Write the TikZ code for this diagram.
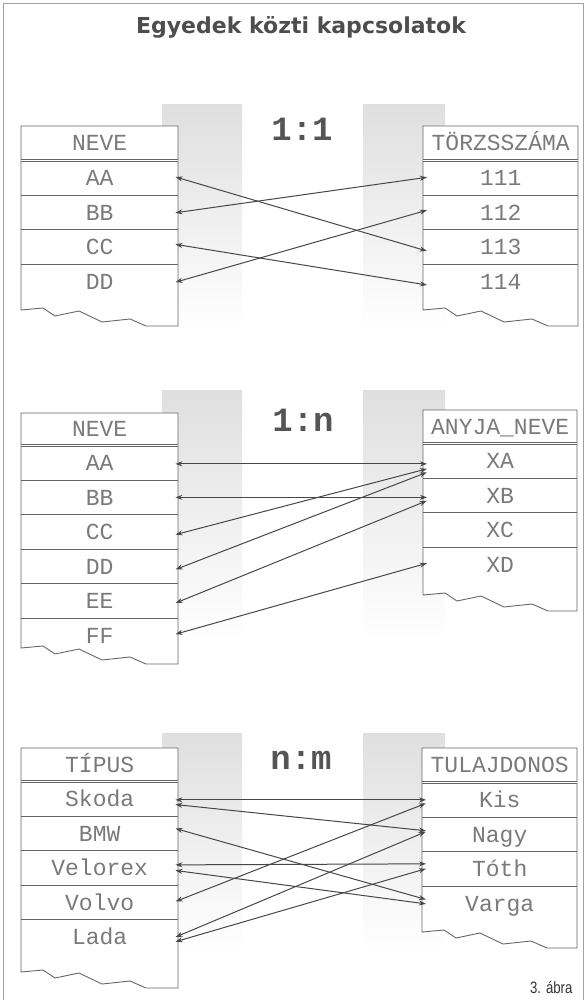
\documentclass[tikz,border=0pt]{standalone}
\usepackage{fontspec}
\usetikzlibrary{arrows.meta,positioning}

\newfontfamily\cellfont{Liberation Mono}
\newfontfamily\ratiofont{Liberation Mono}
\newfontfamily\titlefont{DejaVu Sans}
\newfontfamily\capfont{Liberation Sans}[FakeStretch=0.8]

\definecolor{linegray}{HTML}{666666}
\definecolor{arrowgray}{HTML}{474747}
\definecolor{cellgray}{HTML}{7A7A7A}
\definecolor{ratiogray}{HTML}{555555}
\definecolor{titlegray}{HTML}{4D4D4D}
\definecolor{framegray}{HTML}{A0A0A0}
\definecolor{bandtop}{HTML}{DFDFDF}
\definecolor{bandmid}{HTML}{EAEAEA}

% torn lower edge of a table, #1 = last step
\newcommand{\zigzag}[1]{-- ++(22,-2) -- ++(12,8) -- ++(24,-5) -- ++(23,11) -- ++(28,-3) -- ++(16,7) -- ++(#1,0)}

\tikzset{
  tbl/.style={draw=linegray, line width=0.9pt},
  headrule/.style={draw=linegray, line width=0.8pt, double=white, double distance=0.8pt},
  head/.style={anchor=north west, minimum width=157pt, minimum height=34pt, inner sep=0pt,
    text height=17.5pt, text depth=2pt, text=cellgray, font={\cellfont\fontsize{23}{26}\selectfont}},
  cell/.style={head, minimum height=34.5pt},
  link/.style={draw=arrowgray, line width=1pt,
    {Stealth[length=7pt,width=5pt]}-{Stealth[length=7pt,width=5pt]},
    shorten <=-3pt, shorten >=-4pt},
  band/.style={top color=bandtop, middle color=bandmid, bottom color=white},
  ratio/.style={anchor=base, text=ratiogray, font={\ratiofont\bfseries\fontsize{34}{34}\selectfont}},
  title/.style={anchor=base, text=titlegray, font={\titlefont\bfseries\fontsize{22}{26}\selectfont}},
  caption/.style={anchor=base east, text=black!80, font={\capfont\fontsize{16.5}{18}\selectfont}},
}

\begin{document}
\begin{tikzpicture}[x=1pt, y=-1pt]
  \useasboundingbox (0,0) rectangle (586,1000);

  % ---- frame and title ----
  \draw[framegray, line width=0.8pt] (3,1000) -- (3,3) -- (583,3) -- (583,1000);
  \node[title] (title) at (301,34) {Egyedek közti kapcsolatok};

  % ---- grey bands behind the connectors ----
  \foreach \y/\h in {105/225, 390/250, 733/217} {
    \shade[band] (162,\y) rectangle (242,\y+\h);
    \shade[band] (363,\y) rectangle (445,\y+\h);
  }

  % ==== 1:1 ====
  \node[ratio] (r11) at (302,141) {1:1};
  \draw[tbl, fill=white] (21,310) \zigzag{32} -- (178,126) -- (21,126) -- cycle;
  \draw[tbl, fill=white] (423,310) \zigzag{30} -- (578,126) -- (423,126) -- cycle;
  \node[head] (nevefej) at (21,126) {NEVE};
  \foreach \t [count=\i] in {AA,BB,CC,DD}
    \node[cell] (neve\i) at ([yshift={-34.5*(\i-1)}]nevefej.south west) {\t};
  \node[head, minimum width=155pt] (torzsfej) at (423,126) {TÖRZSSZÁMA};
  \foreach \t [count=\i] in {111,112,113,114}
    \node[cell, minimum width=155pt] (torzs\i) at ([yshift={-34.5*(\i-1)}]torzsfej.south west) {\t};
  \draw[headrule] (nevefej.south west) -- (nevefej.south east);
  \draw[headrule] (torzsfej.south west) -- (torzsfej.south east);
  \foreach \i in {1,2,3} {
    \draw[tbl] (neve\i.south west) -- (neve\i.south east);
    \draw[tbl] (torzs\i.south west) -- (torzs\i.south east);
  }
  \foreach \a/\da/\b/\db in {neve1/0/torzs3/-3, neve2/0/torzs1/0,
                             neve3/2/torzs4/-3, neve4/0/torzs2/1}
    \draw[link] ([yshift=\da pt]\a.east) -- ([yshift=\db pt]\b.west);

  % ==== 1:n ====
  \node[ratio] (r1n) at (303,431) {1:n};
  \draw[tbl, fill=white] (21,648) \zigzag{32} -- (178,413) -- (21,413) -- cycle;
  \draw[tbl, fill=white] (423,595) \zigzag{29} -- (577,410) -- (423,410) -- cycle;
  \node[head, minimum height=32pt] (gyerekfej) at (21,413) {NEVE};
  \foreach \t [count=\i] in {AA,BB,CC,DD,EE,FF}
    \node[cell] (gyerek\i) at ([yshift={-34.5*(\i-1)}]gyerekfej.south west) {\t};
  \node[head, minimum width=154pt, minimum height=33pt] (anyjafej) at (423,410) {ANYJA\_NEVE};
  \foreach \t [count=\i] in {XA,XB,XC,XD}
    \node[cell, minimum width=154pt] (anyja\i) at ([yshift={-34.5*(\i-1)}]anyjafej.south west) {\t};
  \draw[headrule] (gyerekfej.south west) -- (gyerekfej.south east);
  \draw[headrule] (anyjafej.south west) -- (anyjafej.south east);
  \foreach \i in {1,...,5}
    \draw[tbl] (gyerek\i.south west) -- (gyerek\i.south east);
  \foreach \i in {1,2,3}
    \draw[tbl] (anyja\i.south west) -- (anyja\i.south east);
  \foreach \a/\da/\b/\db in {gyerek1/-1/anyja1/-3, gyerek2/0/anyja2/-2,
                             gyerek3/-2/anyja1/-9, gyerek4/-2/anyja1/-13,
                             gyerek5/-1/anyja2/-7, gyerek6/2/anyja4/0}
    \draw[link] ([yshift=\da pt]\a.east) -- ([yshift=\db pt]\b.west);

  % ==== n:m ====
  \node[ratio] (rnm) at (301,769) {n:m};
  \draw[tbl, fill=white] (21,972) \zigzag{32} -- (178,748) -- (21,748) -- cycle;
  \draw[tbl, fill=white] (422,932) \zigzag{30} -- (577,748) -- (422,748) -- cycle;
  \node[head, minimum height=33pt] (tipusfej) at (21,748) {TÍPUS};
  \foreach \t [count=\i] in {Skoda,BMW,Velorex,Volvo,Lada}
    \node[cell] (tipus\i) at ([yshift={-34.5*(\i-1)}]tipusfej.south west) {\t};
  \node[head, minimum width=155pt] (tulajfej) at (422,748) {TULAJDONOS};
  \foreach \t [count=\i] in {Kis,Nagy,Tóth,Varga}
    \node[cell, minimum width=155pt] (tulaj\i) at ([yshift={-34.5*(\i-1)}]tulajfej.south west) {\t};
  \draw[headrule] (tipusfej.south west) -- (tipusfej.south east);
  \draw[headrule] (tulajfej.south west) -- (tulajfej.south east);
  \foreach \i in {1,...,4}
    \draw[tbl] (tipus\i.south west) -- (tipus\i.south east);
  \foreach \i in {1,2,3}
    \draw[tbl] (tulaj\i.south west) -- (tulaj\i.south east);
  \foreach \a/\da/\b/\db in {tipus1/-1/tulaj1/0, tipus1/-6/tulaj2/4,
                             tipus2/4/tulaj4/5, tipus3/3/tulaj3/5,
                             tipus3/-3/tulaj4/0, tipus4/2/tulaj1/-5,
                             tipus5/1/tulaj2/1, tipus5/-4/tulaj3/-1}
    \draw[link] ([yshift=\da pt]\a.east) -- ([yshift=\db pt]\b.west);

  \node[caption] (abra) at (576,993) {3. ábra};

\end{tikzpicture}
\end{document}
